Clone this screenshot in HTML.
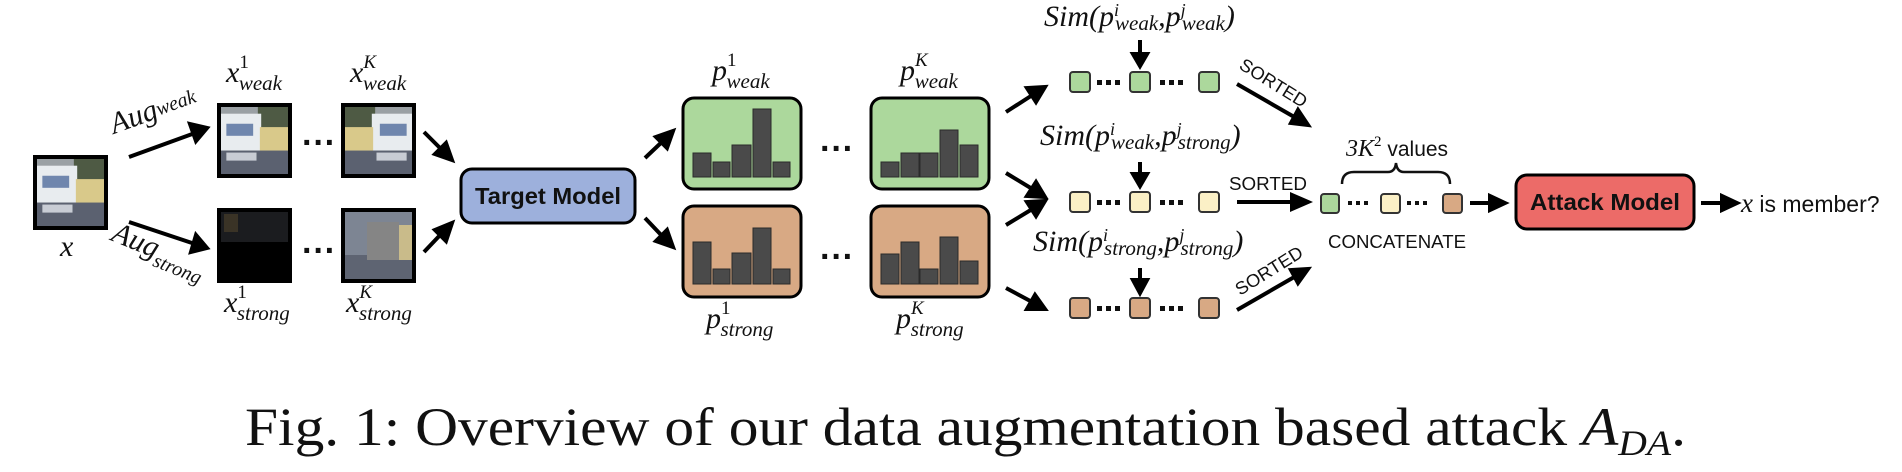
<!DOCTYPE html>
<html><head><meta charset="utf-8"><style>
html,body{margin:0;padding:0;background:#fff;}
svg{display:block;}
.it{font-family:"Liberation Serif",serif;font-style:italic;fill:#111;}
.sf{font-family:"Liberation Sans",sans-serif;fill:#111;}
</style></head><body>
<svg width="1902" height="472" viewBox="0 0 1902 472" xmlns="http://www.w3.org/2000/svg">
<defs>
<g id="truck">
  <rect x="0" y="0" width="100" height="100" fill="#9aa0a4"/>
  <rect x="55" y="0" width="45" height="45" fill="#4e5a44"/>
  <rect x="0" y="10" width="60" height="55" fill="#e8ecef"/>
  <rect x="8" y="25" width="40" height="18" fill="#6f86ad"/>
  <rect x="58" y="30" width="42" height="45" fill="#d9c98a"/>
  <rect x="0" y="65" width="100" height="35" fill="#5b6170"/>
  <rect x="8" y="68" width="45" height="12" fill="#c8ccd4"/>
</g>
</defs>

<!-- x image -->
<rect x="33" y="155" width="75" height="75" fill="#000"/>
<g transform="translate(37,159) scale(0.67)"><use href="#truck"/></g>
<text class="it" x="60" y="256" font-size="30">x</text>

<!-- Aug labels -->
<text class="it" font-size="30" transform="translate(114,134) rotate(-20)">Aug<tspan font-size="20" dy="-2">weak</tspan></text>
<text class="it" font-size="30" transform="translate(110,240) rotate(22)">Aug<tspan font-size="20" dy="8">strong</tspan></text>

<!-- arrows -->
<g stroke="#000" stroke-width="4" fill="#000">
<line x1="129" y1="157" x2="195" y2="133"/><polygon points="207,128 190,124 196,141"/>
<line x1="129" y1="222" x2="195" y2="244"/><polygon points="207,248 196,235 191,252"/>
<line x1="424" y1="132" x2="443" y2="151"/><polygon points="452,160 446,143 435,154" />
<line x1="424" y1="252" x2="443" y2="232"/><polygon points="452,223 435,230 446,241"/>
<line x1="645" y1="158" x2="664" y2="140"/><polygon points="673,131 656,137 667,148"/>
<line x1="645" y1="218" x2="664" y2="238"/><polygon points="673,247 667,230 656,241"/>
<line x1="1006" y1="112" x2="1034" y2="94"/><polygon points="1045,87 1027,88 1036,102"/>
<line x1="1006" y1="173" x2="1034" y2="190"/><polygon points="1045,197 1036,182 1027,196"/>
<line x1="1006" y1="225" x2="1034" y2="208"/><polygon points="1045,201 1027,202 1036,216"/>
<line x1="1006" y1="288" x2="1034" y2="303"/><polygon points="1045,309 1035,295 1027,309"/>
<line x1="1140" y1="40" x2="1140" y2="56"/><polygon points="1133,54 1147,54 1140,66"/>
<line x1="1140" y1="162" x2="1140" y2="176"/><polygon points="1133,174 1147,174 1140,186"/>
<line x1="1140" y1="268" x2="1140" y2="282"/><polygon points="1133,280 1147,280 1140,293"/>
<line x1="1237" y1="84" x2="1296" y2="118"/><polygon points="1308,125 1298,110 1291,123"/>
<line x1="1237" y1="202" x2="1294" y2="202"/><polygon points="1308,202 1292,195 1292,209"/>
<line x1="1237" y1="310" x2="1296" y2="276"/><polygon points="1308,269 1291,270 1298,283"/>
<line x1="1470" y1="203" x2="1492" y2="203"/><polygon points="1505,203 1490,196 1490,210"/>
<line x1="1701" y1="203" x2="1724" y2="203"/><polygon points="1737,203 1722,196 1722,210"/>
</g>

<!-- aug images -->
<rect x="217" y="103" width="75" height="75" fill="#000"/>
<g transform="translate(221,107) scale(0.67)"><use href="#truck"/></g>
<rect x="341" y="103" width="75" height="75" fill="#000"/>
<g transform="translate(412,107) scale(-0.67,0.67)"><use href="#truck"/></g>
<rect x="217" y="208" width="75" height="75" fill="#000"/>
<rect x="221" y="212" width="67" height="30" fill="#1b1c1f"/>
<rect x="224" y="214" width="14" height="18" fill="#3a3326"/>
<rect x="341" y="208" width="75" height="75" fill="#000"/>
<rect x="345" y="212" width="67" height="67" fill="#7d8593"/>
<rect x="345" y="255" width="67" height="24" fill="#5e6472"/>
<rect x="367" y="222" width="32" height="38" fill="#858585"/>
<rect x="399" y="225" width="13" height="35" fill="#c9bb8a"/>

<g class="sf" font-size="34" font-weight="bold"><text x="302" y="154">···</text><text x="302" y="262">···</text></g>

<!-- x labels -->
<text class="it" x="226" y="82" font-size="30">x<tspan font-size="19" dy="-14" font-style="normal">1</tspan><tspan font-size="21" dx="-10" dy="22">weak</tspan></text>
<text class="it" x="350" y="82" font-size="30">x<tspan font-size="19" dy="-14">K</tspan><tspan font-size="21" dx="-13" dy="22">weak</tspan></text>
<text class="it" x="224" y="312" font-size="30">x<tspan font-size="19" dy="-14" font-style="normal">1</tspan><tspan font-size="21" dx="-10" dy="22">strong</tspan></text>
<text class="it" x="346" y="312" font-size="30">x<tspan font-size="19" dy="-14">K</tspan><tspan font-size="21" dx="-13" dy="22">strong</tspan></text>

<!-- target model -->
<rect x="461" y="169" width="174" height="54" rx="11" fill="#9db0dc" stroke="#000" stroke-width="3"/>
<text class="sf" x="548" y="204" font-size="23" font-weight="bold" text-anchor="middle" textLength="146" lengthAdjust="spacingAndGlyphs">Target Model</text>

<!-- prob boxes -->
<rect x="683" y="98" width="118" height="91" rx="11" fill="#acd89c" stroke="#000" stroke-width="3"/>
<rect x="871" y="98" width="118" height="91" rx="11" fill="#acd89c" stroke="#000" stroke-width="3"/>
<rect x="683" y="206" width="118" height="91" rx="11" fill="#d8a984" stroke="#000" stroke-width="3"/>
<rect x="871" y="206" width="118" height="91" rx="11" fill="#d8a984" stroke="#000" stroke-width="3"/>
<g fill="#4a4a4a" stroke="#2a2a2a" stroke-width="1">
<rect x="693" y="153" width="18" height="24"/><rect x="713" y="162" width="17" height="15"/><rect x="732" y="145" width="19" height="32"/><rect x="753" y="109" width="18" height="68"/><rect x="773" y="162" width="17" height="15"/>
<rect x="881" y="162" width="18" height="15"/><rect x="901" y="153" width="18" height="24"/><rect x="920" y="153" width="18" height="24"/><rect x="940" y="130" width="18" height="47"/><rect x="960" y="145" width="18" height="32"/>
<rect x="693" y="242" width="18" height="42"/><rect x="713" y="269" width="17" height="15"/><rect x="732" y="253" width="19" height="31"/><rect x="753" y="228" width="18" height="56"/><rect x="773" y="269" width="17" height="15"/>
<rect x="881" y="254" width="18" height="30"/><rect x="901" y="242" width="18" height="42"/><rect x="920" y="269" width="18" height="15"/><rect x="940" y="237" width="18" height="47"/><rect x="960" y="261" width="18" height="23"/>
</g>
<g class="sf" font-size="34" font-weight="bold"><text x="820" y="160">···</text><text x="820" y="268">···</text></g>

<text class="it" x="712" y="80" font-size="30">p<tspan font-size="19" dy="-14" font-style="normal">1</tspan><tspan font-size="21" dx="-10" dy="22">weak</tspan></text>
<text class="it" x="900" y="80" font-size="30">p<tspan font-size="19" dy="-14">K</tspan><tspan font-size="21" dx="-13" dy="22">weak</tspan></text>
<text class="it" x="706" y="328" font-size="30">p<tspan font-size="19" dy="-14" font-style="normal">1</tspan><tspan font-size="21" dx="-10" dy="22">strong</tspan></text>
<text class="it" x="896" y="328" font-size="30">p<tspan font-size="19" dy="-14">K</tspan><tspan font-size="21" dx="-13" dy="22">strong</tspan></text>

<!-- Sim labels -->
<text class="it" x="1044" y="26" font-size="30">Sim(p<tspan font-size="18" dy="-10">i</tspan><tspan font-size="21" dx="-4" dy="14">weak</tspan><tspan dy="-4">,</tspan><tspan>p</tspan><tspan font-size="18" dy="-10">j</tspan><tspan font-size="21" dx="-4" dy="14">weak</tspan><tspan dy="-4">)</tspan></text>
<text class="it" x="1040" y="145" font-size="30">Sim(p<tspan font-size="18" dy="-10">i</tspan><tspan font-size="21" dx="-4" dy="14">weak</tspan><tspan dy="-4">,</tspan><tspan>p</tspan><tspan font-size="18" dy="-10">j</tspan><tspan font-size="21" dx="-4" dy="14">strong</tspan><tspan dy="-4">)</tspan></text>
<text class="it" x="1033" y="251" font-size="30">Sim(p<tspan font-size="18" dy="-10">i</tspan><tspan font-size="21" dx="-4" dy="14">strong</tspan><tspan dy="-4">,</tspan><tspan>p</tspan><tspan font-size="18" dy="-10">j</tspan><tspan font-size="21" dx="-4" dy="14">strong</tspan><tspan dy="-4">)</tspan></text>

<!-- rows -->
<g stroke="#333" stroke-width="2">
<rect x="1070" y="72" width="20" height="20" rx="3" fill="#acd89c"/><rect x="1130" y="72" width="20" height="20" rx="3" fill="#acd89c"/><rect x="1199" y="72" width="20" height="20" rx="3" fill="#acd89c"/>
<rect x="1070" y="192" width="20" height="20" rx="3" fill="#fbf0c6"/><rect x="1130" y="192" width="20" height="20" rx="3" fill="#fbf0c6"/><rect x="1199" y="192" width="20" height="20" rx="3" fill="#fbf0c6"/>
<rect x="1070" y="298" width="20" height="20" rx="3" fill="#d8a984"/><rect x="1130" y="298" width="20" height="20" rx="3" fill="#d8a984"/><rect x="1199" y="298" width="20" height="20" rx="3" fill="#d8a984"/>
<rect x="1321" y="194" width="18" height="19" rx="3" fill="#acd89c"/><rect x="1381" y="194" width="19" height="19" rx="3" fill="#fbf0c6"/><rect x="1443" y="194" width="19" height="19" rx="3" fill="#d8a984"/>
</g>
<g fill="#111">
<rect x="1097" y="80" width="5" height="5"/><rect x="1106" y="80" width="5" height="5"/><rect x="1115" y="80" width="5" height="5"/>
<rect x="1160" y="80" width="5" height="5"/><rect x="1169" y="80" width="5" height="5"/><rect x="1178" y="80" width="5" height="5"/>
<rect x="1097" y="200" width="5" height="5"/><rect x="1106" y="200" width="5" height="5"/><rect x="1115" y="200" width="5" height="5"/>
<rect x="1160" y="200" width="5" height="5"/><rect x="1169" y="200" width="5" height="5"/><rect x="1178" y="200" width="5" height="5"/>
<rect x="1097" y="306" width="5" height="5"/><rect x="1106" y="306" width="5" height="5"/><rect x="1115" y="306" width="5" height="5"/>
<rect x="1160" y="306" width="5" height="5"/><rect x="1169" y="306" width="5" height="5"/><rect x="1178" y="306" width="5" height="5"/>
<rect x="1348" y="201" width="4" height="4"/><rect x="1356" y="201" width="4" height="4"/><rect x="1364" y="201" width="4" height="4"/>
<rect x="1407" y="201" width="4" height="4"/><rect x="1415" y="201" width="4" height="4"/><rect x="1423" y="201" width="4" height="4"/>
</g>

<!-- SORTED -->
<text class="sf" font-size="18" transform="translate(1238,68) rotate(32)" textLength="76" lengthAdjust="spacingAndGlyphs">SORTED</text>
<text class="sf" font-size="18" x="1229" y="190" textLength="78" lengthAdjust="spacingAndGlyphs">SORTED</text>
<text class="sf" font-size="18" transform="translate(1240,296) rotate(-32)" textLength="76" lengthAdjust="spacingAndGlyphs">SORTED</text>

<!-- brace -->
<path d="M1342,184 Q1342,172 1354,172 L1388,172 Q1395,172 1396,163 Q1397,172 1404,172 L1438,172 Q1450,172 1450,184" fill="none" stroke="#111" stroke-width="2.5"/>
<text x="1346" y="156" font-size="24"><tspan class="it" font-style="normal" style="font-family:'Liberation Serif',serif">3</tspan><tspan class="it">K</tspan><tspan font-size="15" dy="-10" style="font-family:'Liberation Serif',serif">2</tspan><tspan class="sf" dy="10" font-size="21"> values</tspan></text>
<text class="sf" x="1328" y="248" font-size="18" textLength="138" lengthAdjust="spacingAndGlyphs">CONCATENATE</text>

<!-- attack model -->
<rect x="1516" y="175" width="178" height="54" rx="11" fill="#ec6b68" stroke="#000" stroke-width="3"/>
<text class="sf" x="1605" y="210" font-size="23" font-weight="bold" text-anchor="middle" textLength="150" lengthAdjust="spacingAndGlyphs">Attack Model</text>
<text x="1741" y="212" font-size="23"><tspan class="it" font-size="27">x</tspan><tspan class="sf"> is member?</tspan></text>

<!-- caption -->
<text x="245" y="445" font-size="54" style="font-family:'Liberation Serif',serif" fill="#111" textLength="1441" lengthAdjust="spacingAndGlyphs">Fig. 1: Overview of our data augmentation based attack <tspan font-style="italic">A</tspan><tspan font-style="italic" font-size="36" dy="10">DA</tspan><tspan dy="-10">.</tspan></text>
</svg>
</body></html>
